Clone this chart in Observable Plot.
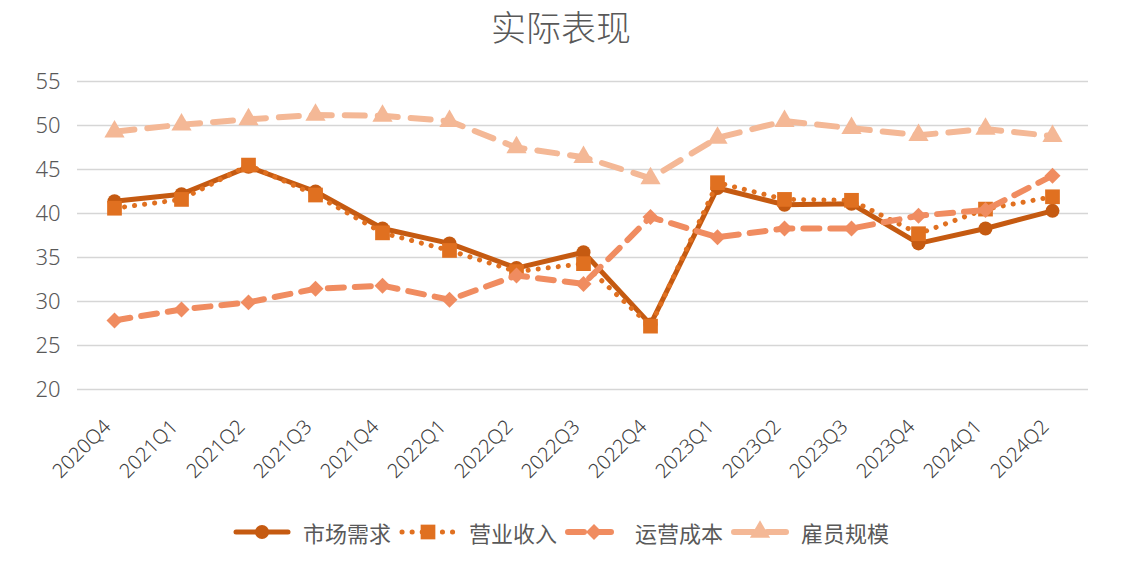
<!DOCTYPE html>
<html><head><meta charset="utf-8">
<script src="https://cdn.jsdelivr.net/npm/d3@7"></script>
<script src="https://cdn.jsdelivr.net/npm/@observablehq/plot@0.6"></script>
<style>
html,body{margin:0;padding:0;background:#fff;}
body{width:1122px;height:574px;overflow:hidden;font-family:"Noto Sans CJK SC","Noto Sans",sans-serif;}
#title{height:44px;text-align:center;font-size:35px;line-height:51px;color:#595959;font-weight:300;overflow:visible;position:relative;z-index:1;}
#chart{height:456px;}
#legend{margin-top:17px;height:30px;display:flex;justify-content:center;align-items:center;font-size:22px;color:#595959;}
#legend .item{display:flex;align-items:center;margin:0 4px;}
#legend .item span{margin-left:12px;line-height:30px;}
</style></head><body>
<div id="title">实际表现</div>
<div id="chart"></div>
<div id="legend"></div>
<script>
const quarters = ["2020Q4","2021Q1","2021Q2","2021Q3","2021Q4","2022Q1","2022Q2","2022Q3","2022Q4","2023Q1","2023Q2","2023Q3","2023Q4","2024Q1","2024Q2"];
const seriesNames = ["市场需求","营业收入","运营成本","雇员规模"];
const marketDemand = [41.4,42.2,45.3,42.5,38.3,36.6,33.8,35.6,27.4,42.9,41.0,41.1,36.6,38.3,40.3];
const revenue      = [40.6,41.6,45.5,42.1,37.8,35.8,33.4,34.3,27.2,43.5,41.6,41.5,37.7,40.5,41.9];
const opCost       = [27.85,29.1,29.9,31.45,31.8,30.2,32.95,32.0,39.6,37.3,38.3,38.3,39.75,40.4,44.3];
const headcount    = [49.3,50.1,50.7,51.2,51.1,50.5,47.5,46.4,44.0,48.6,50.5,49.7,48.9,49.6,48.8];
const yTicks = [20,25,30,35,40,45,50,55];

const values = [marketDemand, revenue, opCost, headcount];
const colors = ["#c55a11","#e07020","#f08c60","#f4b896"];
const symbols = ["circle","square","diamond2","triangle"];
const d3symbols = [d3.symbolCircle, d3.symbolSquare, d3.symbolDiamond2, d3.symbolTriangle];
const radii = [7,8.3,7.2,7.5];
const widths = [5,5,6,6];
const dashes = [null,"0.1 10","16 11","20 13"];

const rows = seriesNames.map((name, s) => quarters.map((q, i) => ({quarter: q, series: name, value: values[s][i]})));

const marks = [Plot.gridY(yTicks, {stroke: "#d6d6d6", strokeOpacity: 1, strokeWidth: 1.5})];
rows.forEach((data, s) => {
  marks.push(Plot.line(data, {x: "quarter", y: "value", stroke: colors[s], strokeWidth: widths[s],
    strokeDasharray: dashes[s], strokeLinecap: "round", strokeLinejoin: "round"}));
  marks.push(Plot.dot(data, {x: "quarter", y: "value", symbol: () => symbols[s], r: radii[s], fill: colors[s], stroke: "none"}));
});
marks.push(Plot.axisY(yTicks, {tickSize: 0, tickPadding: 17, fontSize: 22, fill: "#595959", label: null}));
marks.push(Plot.axisX({tickSize: 0, tickRotate: -45, tickPadding: 34, dx: -7, fontSize: 20, fill: "#404040", label: null}));

const chart = Plot.plot({
  width: 1122, height: 456,
  marginTop: 37, marginBottom: 111, marginLeft: 77, marginRight: 34,
  style: {fontFamily: "'Noto Sans','Noto Sans CJK SC',sans-serif", fontWeight: 300, background: "transparent", overflow: "visible"},
  x: {type: "point", domain: quarters, padding: 0.5},
  y: {domain: [20, 55]},
  symbol: {type: "identity"},
  marks
});
document.getElementById("chart").appendChild(chart);

const legend = d3.select("#legend");
seriesNames.forEach((name, s) => {
  const item = legend.append("div").attr("class", "item");
  const svg = item.append("svg").attr("width", 58).attr("height", 26);
  svg.append("line").attr("x1", 3).attr("x2", 55).attr("y1", 13).attr("y2", 13)
    .attr("stroke", colors[s]).attr("stroke-width", widths[s])
    .attr("stroke-dasharray", dashes[s]).attr("stroke-linecap", "round");
  svg.append("path").attr("d", d3.symbol(d3symbols[s], Math.PI * radii[s] * radii[s])())
    .attr("transform", "translate(29,13)").attr("fill", colors[s]);
  item.append("span").text(name);
});
</script>
</body></html>
